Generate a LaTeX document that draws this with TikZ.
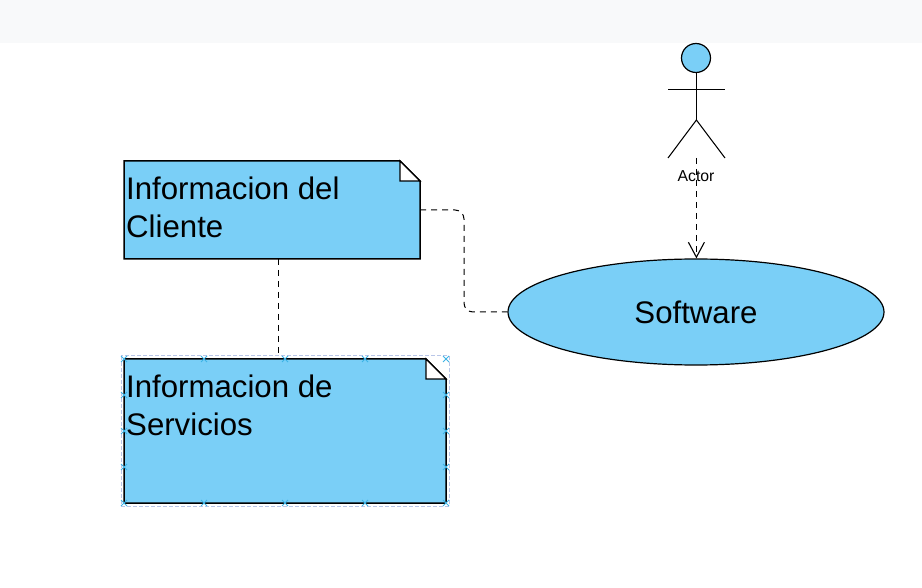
\documentclass[tikz,border=0pt]{standalone}
\usepackage{fontspec}
\setmainfont{Liberation Sans}
\usetikzlibrary{arrows.meta,shapes.geometric}
\definecolor{umlblue}{HTML}{7ACFF7}
\definecolor{topband}{HTML}{F8F9FA}
\definecolor{handle}{HTML}{3DB4E6}
\definecolor{selline}{HTML}{B9C6E8}
\tikzset{
  notebox/.style={inner sep=0pt,outer sep=0pt,anchor=north west},
  notetext/.style={font=\fontsize{31.2}{38}\selectfont,align=left,anchor=north west,inner sep=0pt},
  noteline/.style={draw=black,line width=1.5pt,fill=umlblue,line join=miter},
  foldline/.style={draw=black,line width=1.3pt,fill=white},
  dep/.style={dash pattern=on 6pt off 5pt,line width=1pt,black},
  limb/.style={black,line width=1.05pt},
  sel/.style={selline,line width=1pt,dash pattern=on 4pt off 2pt},
  hmark/.style={handle,line width=1pt}
}
\newcommand{\hmk}[2]{\draw[hmark] (#1-3,#2-3) -- (#1+3,#2+3) (#1-3,#2+3) -- (#1+3,#2-3);}
\begin{document}
\begin{tikzpicture}[x=1pt,y=-1pt]
\useasboundingbox (0,0) rectangle (922,588);
\fill[white] (0,0) rectangle (922,588);
\fill[topband] (0,0) rectangle (922,43);
% note 1
\node[notebox,minimum width=296pt,minimum height=98pt] (cli) at (124,161) {};
\path[noteline] (cli.north west) -- (400,161) -- (420,181) -- (cli.south east) -- (cli.south west) -- cycle;
\path[foldline] (400,161) -- (420,181) -- (400,181) -- cycle;
\node[notetext] (clitxt) at (126,177) {Informacion del\\Cliente};
% note 2 selection
\draw[sel] (121,356) rectangle (449,506);
\node[notebox,minimum width=322pt,minimum height=144pt] (srv) at (124,359) {};
\path[noteline] (srv.north west) -- (426,359) -- (446,379) -- (srv.south east) -- (srv.south west) -- cycle;
\path[foldline] (426,359) -- (446,379) -- (426,379) -- cycle;
\node[notetext] (srvtxt) at (126,375) {Informacion de\\Servicios};
\foreach \hx in {124,204,285,365,446} {\hmk{\hx}{359}\hmk{\hx}{503}}
\foreach \hy in {395,431,467} {\hmk{124}{\hy}\hmk{446}{\hy}}
% use case
\node[draw=black,line width=1.2pt,fill=umlblue,ellipse,minimum width=376pt,minimum height=106pt,inner sep=0pt,font=\fontsize{31.2}{36}\selectfont] (soft) at (696,312) {Software};
% actor
\node[circle,draw=black,line width=1.2pt,fill=umlblue,minimum size=29pt,inner sep=0pt] (head) at (696,58) {};
\coordinate (hip) at (696.4,120);
\coordinate (armL) at (668,89.4);
\coordinate (armR) at (725,89.4);
\coordinate (legL) at (668,158);
\coordinate (legR) at (725,158);
\coordinate (actfoot) at (696.4,158);
\draw[limb] (head.south -| hip) -- (hip);
\draw[limb] (armL) -- (armR);
\draw[limb] (legL) -- (hip) -- (legR);
\node[font=\fontsize{15.8}{18}\selectfont,inner sep=0pt] (actlbl) at (696,176) {Actor};
% connectors
\draw[dep,-{Straight Barb[length=15pt,width=16pt,line width=1.1pt]}] (actfoot) -- (actfoot |- soft.north);
\coordinate (cliout) at (420,210);
\draw[dep,rounded corners=9pt] (cliout) -- (464,210) -- (464,312) -- (soft.west);
\coordinate (cliboth) at (278.4,259);
\coordinate (srvtop) at (278.4,359);
\draw[dep] (cliboth) -- (srvtop);
\end{tikzpicture}
\end{document}
